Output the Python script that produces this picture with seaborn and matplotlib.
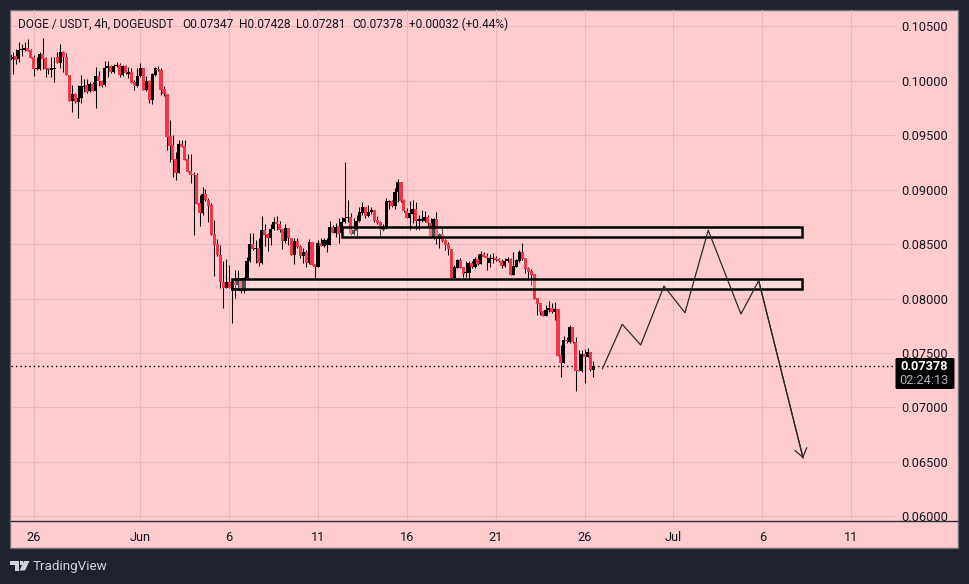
import matplotlib
matplotlib.use("Agg")
import matplotlib.pyplot as plt
import matplotlib.dates as mdates
from matplotlib.patches import Rectangle, FancyBboxPatch, Polygon
import numpy as np
import pandas as pd
import seaborn as sns

# 4h DOGE/USDT candles, quoted in units of 0.00001 USDT
opens = [10190,10199,10227,10196,10279,10282,10300,10282,10215,10105,10108,10245,10205,10114,10101,10111,10215,10166,10261,10215,
         10049,9814,9875,9808,9844,9945,9961,9906,9970,9909,10043,9997,9961,10114,10135,10080,10135,10144,10056,10135,
         10059,10080,9985,9952,10040,10117,9915,9997,9823,10056,10111,10098,9921,9875,9492,9410,9278,9156,9416,9401,
         9278,9174,9143,9134,8874,8788,8960,8908,8859,8593,8498,8400,8155,8100,8149,8079,8149,8125,8177,8072,
         8186,8348,8498,8455,8461,8324,8630,8593,8559,8639,8703,8685,8639,8529,8645,8553,8400,8532,8483,8391,
         8428,8324,8516,8314,8293,8507,8483,8492,8492,8654,8605,8666,8599,8703,8737,8746,8593,8623,8709,8783,
         8841,8761,8795,8810,8721,8703,8630,8645,8890,8896,8853,8975,9067,8905,8807,8740,8776,8819,8715,8715,
         8715,8746,8691,8553,8728,8544,8593,8538,8498,8455,8185,8283,8354,8286,8237,8237,8323,8286,8363,8317,
         8406,8387,8329,8366,8372,8360,8348,8299,8345,8363,8216,8293,8348,8427,8369,8277,8253,8222,8002,7956,
         7883,7843,7892,7910,7880,7904,7482,7411,7619,7604,7736,7604,7344,7338,7491,7466,7509,7347]
highs = [10258,10267,10288,10358,10337,10358,10380,10288,10236,10215,10267,10389,10221,10120,10221,10221,10267,10337,10276,10251,
         10052,9961,9884,9961,10052,10013,10013,9991,9991,10129,10092,10006,10181,10181,10144,10153,10169,10160,10144,10141,
         10129,10120,10006,10114,10160,10117,10043,10006,10068,10129,10135,10114,9952,9875,9639,9502,9349,9456,9456,9456,
         9327,9327,9165,9156,8951,9027,9003,8920,8880,8721,8547,8492,8345,8360,8308,8170,8262,8262,8186,8201,
         8385,8599,8599,8538,8553,8758,8685,8605,8685,8752,8758,8712,8639,8685,8645,8559,8553,8553,8489,8461,
         8446,8544,8522,8317,8538,8553,8553,8559,8712,8676,8691,8737,8752,9251,8905,8783,8737,8767,8844,8890,
         8844,8859,8844,8813,8761,8709,8685,8920,8905,8905,9018,9098,9073,8911,8829,8899,8905,8890,8767,8813,
         8807,8767,8737,8737,8798,8599,8654,8544,8522,8455,8308,8360,8369,8293,8348,8348,8348,8378,8409,8436,
         8430,8421,8409,8415,8391,8375,8363,8369,8378,8369,8430,8360,8446,8507,8375,8286,8268,8222,8002,7962,
         7889,7941,7980,7956,7971,7904,7574,7656,7650,7757,7742,7650,7528,7528,7534,7543,7512,7428]
lows = [10184,10062,10153,10175,10227,10276,10276,10205,10043,10098,10098,10108,10037,10062,10037,9991,10160,10114,10083,10049,
        9814,9716,9792,9655,9792,9900,9890,9900,9906,9753,9952,9939,9952,10037,10068,10074,10129,10037,10043,10062,
        10022,9976,9915,9945,10037,9915,9909,9792,9786,10043,10092,9869,9860,9364,9257,9119,9088,9150,9388,9272,
        9165,9064,8584,8868,8666,8767,8899,8706,8584,8210,8394,8094,7910,8100,8094,7773,8002,8079,8048,8054,
        8186,8339,8446,8324,8299,8317,8483,8437,8492,8630,8630,8614,8452,8513,8492,8400,8317,8461,8369,8324,
        8293,8317,8308,8186,8293,8483,8477,8431,8492,8599,8562,8513,8562,8691,8706,8584,8584,8575,8703,8767,
        8737,8752,8776,8706,8685,8575,8623,8636,8819,8844,8819,8890,8890,8798,8737,8630,8691,8630,8630,8706,
        8706,8660,8553,8544,8501,8461,8522,8446,8400,8185,8185,8277,8277,8195,8195,8185,8277,8277,8308,8314,
        8378,8262,8293,8323,8348,8339,8283,8293,8339,8216,8216,8286,8339,8354,8238,8176,8124,7996,7849,7849,
        7840,7840,7880,7870,7803,7476,7283,7411,7589,7589,7589,7154,7335,7329,7222,7460,7338,7281]
closes = [10236,10215,10190,10282,10294,10300,10276,10212,10108,10114,10242,10199,10108,10101,10120,10120,10166,10261,10215,10049,
          9814,9875,9808,9844,9952,9952,9900,9967,9906,10043,9997,9955,10114,10135,10080,10135,10144,10049,10135,10074,
          10077,9982,9955,10040,10117,9915,9997,9823,10062,10117,10095,9915,9875,9486,9401,9272,9156,9419,9394,9272,
          9165,9134,9134,8868,8788,8960,8905,8853,8584,8492,8400,8155,8100,8149,8100,8155,8125,8186,8072,8186,
          8348,8501,8455,8461,8324,8630,8584,8559,8639,8703,8682,8630,8529,8645,8553,8400,8532,8477,8391,8428,
          8324,8516,8308,8293,8507,8483,8538,8538,8654,8605,8654,8593,8703,8740,8746,8593,8630,8709,8792,8841,
          8761,8795,8810,8715,8697,8630,8654,8896,8896,8850,8975,9067,8899,8804,8740,8783,8819,8715,8728,8731,
          8746,8691,8575,8728,8544,8593,8532,8492,8452,8185,8286,8354,8283,8225,8244,8323,8286,8363,8317,8406,
          8384,8372,8375,8375,8354,8348,8299,8345,8363,8216,8299,8354,8427,8360,8268,8247,8216,7996,7950,7880,
          7840,7892,7910,7880,7904,7476,7411,7619,7607,7736,7598,7338,7335,7491,7466,7509,7346,7378]
first_candle = "2023-05-24 16:00"

# Supply/demand zones: start date, lower price, upper price (0.00001 USDT)
zone_upper = ("2023-06-12 08:00", 8565, 8657)
zone_lower = ("2023-06-06 04:00", 8091, 8182)
zone_end = "2023-07-08 06:00"

# Projected price path drawn on the chart
path_days = [26.0, 27.12, 28.16, 29.47, 30.65, 31.96, 33.8, 34.8, 37.3]
path_prices = [7354, 7764, 7574, 8115, 7870, 8627, 7858, 8164, 6534]

y_ticks = [0.060, 0.065, 0.070, 0.075, 0.080, 0.085, 0.090, 0.095, 0.100, 0.105]
x_tick_days = [-6, 0, 5, 10, 15, 20, 25, 30, 35, 40]
x_tick_labels = ["26", "Jun", "6", "11", "16", "21", "26", "Jul", "6", "11"]
last_close = 0.07378
countdown = "02:24:13"
header = "DOGE / USDT, 4h, DOGEUSDT"
header_ohlc = ["O0.07347", "H0.07428", "L0.07281", "C0.07378", "+0.00032 (+0.44%)"]

W, H = 969, 584
DARK = "#1E222D"
PINK = "#FECBCF"
GRID = "#EDB6BB"
RED = "#F23645"
INK = "#131722"

sns.set_theme(style="white")
plt.rcParams["font.family"] = ["Roboto", "DejaVu Sans"]


def fx(px):
    return px / W


def fy(py):
    return 1 - py / H


fig = plt.figure(figsize=(W / 100, H / 100), dpi=100, facecolor=DARK)

# chart panel behind the price axes
fig.add_artist(Rectangle((fx(10), fy(548)), 948 / W, 538 / H, transform=fig.transFigure,
                         facecolor=PINK, edgecolor="#6E6E78", linewidth=1.0, zorder=-2))

ax = fig.add_axes([fx(10.5), fy(521), 884.5 / W, 511 / H])
ax.patch.set_visible(False)

times = pd.date_range(first_candle, periods=len(opens), freq="4h")
t = mdates.date2num(times)
o, h, l, c = (np.array(a) / 1e5 for a in (opens, highs, lows, closes))

jun1 = mdates.date2num(pd.Timestamp("2023-06-01"))
ax.set_xlim(jun1 - 7.305, jun1 + 42.47)
ax.set_ylim(0.05958, 0.10649)

ax.set_xticks(jun1 + np.array(x_tick_days), labels=x_tick_labels)
ax.set_yticks(y_ticks, labels=[f"{v:.5f}" for v in y_ticks])
ax.yaxis.tick_right()
ax.grid(True, color=GRID, linewidth=0.75, zorder=0)
ax.set_axisbelow(True)
ax.tick_params(axis="both", length=0, labelsize=9.2, labelcolor=INK)
ax.tick_params(axis="x", pad=7)
ax.tick_params(axis="y", pad=4.5)
sns.despine(ax=ax, left=True, top=True, right=True, bottom=False)
ax.spines["bottom"].set_color("#2A2E39")
ax.spines["bottom"].set_linewidth(1.0)

# candles: wicks in black, bodies red when the close is below the open
ax.vlines(t, l, h, color="black", linewidth=0.75, zorder=3)
colors = [RED if cl < op else "black" for op, cl in zip(o, c)]
ax.bar(t, np.maximum(np.abs(c - o), 0.00004), bottom=np.minimum(o, c), width=0.18,
       color=colors, linewidth=0, zorder=4)

# last-price line
sns.lineplot(x=[ax.get_xlim()[0], ax.get_xlim()[1]], y=[last_close, last_close], ax=ax,
             color="black", linewidth=1.0, linestyle=(0, (1, 2.2)), zorder=2, legend=False)

# zones
for start, low, top in (zone_upper, zone_lower):
    x0 = mdates.date2num(pd.Timestamp(start))
    x1 = mdates.date2num(pd.Timestamp(zone_end))
    ax.add_patch(Rectangle((x0, low / 1e5), x1 - x0, (top - low) / 1e5, facecolor="none",
                           edgecolor="black", linewidth=1.8, zorder=6))
    ax.add_patch(Rectangle((x0, low / 1e5), x1 - x0, (top - low) / 1e5, facecolor="white",
                           alpha=0.3, linewidth=0, zorder=5))

# projected path with an open arrow at its end
path_x = jun1 + np.array(path_days)
path_y = np.array(path_prices) / 1e5
sns.lineplot(x=path_x, y=path_y, ax=ax, sort=False, estimator=None, color="#2B2B2B",
             linewidth=0.9, zorder=7, legend=False)
ax.annotate("", xy=(path_x[-1], path_y[-1]), xytext=(path_x[-2], path_y[-2]),
            arrowprops=dict(arrowstyle="->,head_length=0.55,head_width=0.4", color="#2B2B2B",
                            linewidth=0.9, mutation_scale=11, shrinkA=0, shrinkB=0), zorder=7)

# extension of the time-axis rule under the price scale
fig.add_artist(plt.Line2D([fx(896), fx(958)], [fy(521), fy(521)], transform=fig.transFigure,
                          color="#2A2E39", linewidth=1.0))

# header line
x_cursor = [18, 182, 239, 296, 352, 409]
for xp, label in zip(x_cursor, [header] + header_ohlc):
    fig.text(fx(xp), fy(24), label, fontsize=8.6, color=INK, va="center", ha="left")

# last-price tag on the scale
fig.add_artist(FancyBboxPatch((fx(895.5), fy(389)), 59 / W, 31 / H, transform=fig.transFigure,
                              boxstyle="round,pad=0,rounding_size=0.002", facecolor="black",
                              edgecolor="none", zorder=8))
fig.text(fx(924), fy(366.5), f"{last_close:.5f}", color="white", fontsize=9.2, fontweight="bold",
         ha="center", va="center", zorder=9)
fig.text(fx(924), fy(381), countdown, color="#B2B5BE", fontsize=9.2, ha="center", va="center", zorder=9)

# TradingView mark in the footer
MARK = "#D1D4DC"
fig.add_artist(Polygon([(fx(10), fy(561)), (fx(19), fy(561)), (fx(19), fy(570.5)), (fx(15), fy(570.5)),
                        (fx(15), fy(565)), (fx(10), fy(565))], closed=True, transform=fig.transFigure,
                       facecolor=MARK, edgecolor="none"))
fig.add_artist(Polygon([(fx(24), fy(561)), (fx(29.5), fy(561)), (fx(25), fy(570.5)), (fx(19.5), fy(570.5))],
                       closed=True, transform=fig.transFigure, facecolor=MARK, edgecolor="none"))
fig.add_artist(Polygon([(fx(19.5), fy(561)), (fx(23), fy(561)), (fx(23), fy(564.5)), (fx(19.5), fy(564.5))],
                       closed=True, transform=fig.transFigure, facecolor=MARK, edgecolor="none"))
fig.text(fx(33), fy(566.5), "TradingView", color=MARK, fontsize=9.7, ha="left", va="center")

fig.savefig("out.png", dpi=100)
